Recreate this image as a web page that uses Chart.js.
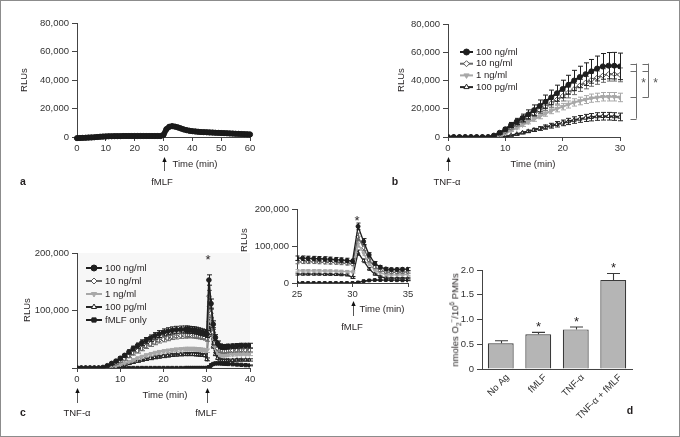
<!DOCTYPE html>
<html>
<head>
<meta charset="utf-8">
<script src="https://cdn.jsdelivr.net/npm/chart.js@4.4.1/dist/chart.umd.min.js"></script>
<style>
html, body { margin: 0; padding: 0; background: #fff; }
#fig { position: relative; width: 680px; height: 437px; overflow: hidden; }
#fig canvas { position: absolute; left: 0; top: 0; }
#frame { position: absolute; left: 0; top: 0; width: 680px; height: 437px; box-sizing: border-box; border: 1px solid #8c8c8c; pointer-events: none; }
.note { position: absolute; white-space: nowrap; font-family: 'Liberation Sans', Arial, sans-serif; font-size: 9.5px; color: #231f20; line-height: 1; }
.lbl { font-weight: bold; font-size: 10.5px; }
.star { font-size: 13px; }
.note sub, .note sup { font-size: 6.5px; line-height: 0; }
</style>
</head>
<body>
<div id="fig">
<canvas id="cA" width="680" height="437"></canvas>
<canvas id="cB" width="680" height="437"></canvas>
<canvas id="cC" width="680" height="437"></canvas>
<canvas id="cI" width="680" height="437"></canvas>
<canvas id="cD" width="680" height="437"></canvas>
<div id="frame"></div>
</div>
<script>
// ---- panel a : fMLF alone, 0-60 min
var aTime = [0,1,2,3,4,5,6,7,8,9,10,11,12,13,14,15,16,17,18,19,20,21,22,23,24,25,26,27,28,29,
             30,31,32,33,34,35,36,37,38,39,40,41,42,43,44,45,46,47,48,49,50,51,52,53,54,55,56,57,58,59,60];
var aVals = [-800,-700,-600,-500,-400,-300,-200,0,200,300,400,500,500,600,600,600,700,700,700,700,700,700,700,700,700,700,700,700,700,700,
             1500,5500,7200,7600,7300,6700,6000,5300,4800,4400,4100,3900,3700,3500,3400,3300,3200,3100,3000,2900,2800,2700,2600,2500,2400,2300,2200,2100,2000,1900,1800];

// ---- panel b : TNF-alpha doses, 0-30 min
var bTime = [0,1,2,3,4,5,6,7,8,9,10,11,12,13,14,15,16,17,18,19,20,21,22,23,24,25,26,27,28,29,30];
var b100 = [0,0,0,0,0,0,0,0,1000,3000,5500,8500,11000,13500,16000,19000,22000,25000,28000,31000,34000,37000,40000,42500,44500,46500,48500,50000,50500,50500,50000];
var b100e = [0,0,0,0,0,0,0,0,300,800,1200,1800,2200,2700,3200,3700,4200,4700,5200,5700,6200,6700,7200,7600,8000,8400,8800,9100,9300,9400,9400];
var b10 = [0,0,0,0,0,0,0,0,500,2000,4000,6500,9000,11500,14000,16500,19000,21500,24000,26500,29000,31500,34000,36500,38500,40500,42000,43500,44500,44500,44000];
var b10e = [0,0,0,0,0,0,0,0,100,300,500,800,1100,1400,1700,2000,2300,2600,2900,3200,3500,3800,4000,4200,4400,4600,4700,4800,4900,4900,4900];
var b1 = [0,0,0,0,0,0,0,0,0,800,2500,4500,6500,8500,10500,12500,14500,16500,18500,20000,21500,23000,24500,25500,26500,27500,28000,28500,28500,28500,28000];
var b1e = [0,0,0,0,0,0,0,0,0,200,400,600,800,1000,1200,1400,1600,1800,2000,2200,2300,2500,2600,2700,2800,2900,3000,3000,3000,3000,3000];
var b100pg = [0,0,0,0,0,0,0,0,0,0,300,1000,2000,3000,4000,5000,6000,7000,8000,9000,10000,11000,12000,12800,13500,14000,14500,14700,14700,14500,14200];
var b100pge = [0,0,0,0,0,0,0,0,0,0,100,300,500,700,900,1100,1300,1500,1700,1900,2000,2200,2300,2400,2500,2600,2700,2700,2700,2700,2700];
var bBrackets = [[52000, 47000, 28000, 13000], [52000, 47000, 28000]];

// ---- panel c and inset : TNF-alpha then fMLF at 30 min
var cTime = [0,1,2,3,4,5,6,7,8,9,10,11,12,13,14,15,16,17,18,19,20,21,22,23,24,
             25,25.5,26,26.5,27,27.5,28,28.5,29,29.5,30,30.5,31,31.5,32,32.5,33,33.5,34,34.5,35,
             36,37,38,39,40];
var c100 = [0,0,0,0,0,0,1000,4000,8000,12000,17000,22000,28000,34000,39000,44000,48000,52000,56000,59000,62000,64000,65500,66500,67000,
            67000,67000,66500,66000,65500,65000,64000,63000,62000,61000,59000,153000,112000,76000,53000,43000,38000,36500,36500,37000,37500,
            38000,38500,39000,39000,39000];
var c100e = [0,0,0,0,0,0,300,800,1500,2000,2500,3000,3500,4000,4500,5000,5000,5500,5500,6000,6000,6000,6000,6000,6000,
             6000,6000,6000,6000,6000,6000,6000,6000,6000,6000,6000,9000,8000,6000,5000,4000,4000,4000,4000,4000,4000,
             4000,4000,4000,4000,4000];
var c10 = [0,0,0,0,0,0,0,2000,5000,8000,12000,16000,21000,26000,30000,34000,38000,42000,45000,48000,50000,52000,54000,55000,56000,
           56500,57000,57000,57000,56500,56000,55500,55000,54000,53000,51000,125000,95000,62000,43000,34000,30000,29000,29000,29500,30000,
           30500,31000,31000,31000,31000];
var c10e = [0,0,0,0,0,0,0,500,1000,1500,2000,2500,3000,3500,4000,4000,4000,4500,4500,4500,4500,4500,4500,4500,4500,
            4500,4500,4500,4500,4500,4500,4500,4500,4500,4500,4500,10000,7000,5000,4000,3000,3000,3000,3000,3000,3000,
            3000,3000,3000,3000,3000];
var c1 = [0,0,0,0,0,0,0,1000,2500,4000,6000,8500,11000,14000,17000,19500,22000,24000,26000,27500,29000,30000,31000,32000,32500,
          33000,33000,33000,33000,33000,32500,32500,32000,31500,31000,30000,105000,80000,52000,35000,27000,23000,22000,22000,22500,23000,
          23500,24000,24000,24000,24000];
var c1e = [0,0,0,0,0,0,0,300,600,900,1200,1500,1800,2100,2400,2600,2800,3000,3000,3000,3000,3000,3000,3000,3000,
           3000,3000,3000,3000,3000,3000,3000,3000,3000,3000,3000,8000,6000,4000,3000,2500,2500,2500,2500,2500,2500,
           2500,2500,2500,2500,2500];
var c100pg = [0,0,0,0,0,0,0,0,1000,2500,4000,6000,8000,10000,12000,14000,15500,17000,18500,19500,20500,21500,22500,23000,23500,
              24000,24000,24000,24000,24000,23500,23500,23000,22500,22000,15000,82000,60000,38000,24000,17000,14000,13000,13000,13000,13500,
              13500,14000,14000,14000,14000];
var c100pge = [0,0,0,0,0,0,0,0,300,600,900,1200,1500,1800,2000,2200,2400,2500,2500,2500,2500,2500,2500,2500,2500,
               2500,2500,2500,2500,2500,2500,2500,2500,2500,2500,2500,7000,5000,3500,2500,2000,2000,2000,2000,2000,2000,
               2000,2000,2000,2000,2000];
var cF = [0,0,0,0,0,0,0,0,0,0,0,0,0,0,0,0,0,0,0,0,0,0,0,0,0,
          0,0,0,0,0,0,0,0,0,0,0,1500,5000,7000,8000,8000,8000,7800,7500,7300,7000,
          6500,6000,5500,5000,4500];
var cFe = [0,0,0,0,0,0,0,0,0,0,0,0,0,0,0,0,0,0,0,0,0,0,0,0,0,
           0,0,0,0,0,0,0,0,0,0,0,500,800,800,800,800,800,800,800,800,800,
           800,800,800,800,800];

// ---- panel d : superoxide
var dCats = ['No Ag', 'fMLF', 'TNF-\u03b1', 'TNF-\u03b1 + fMLF'];
var dVals = [0.52, 0.70, 0.80, 1.80];
var dErrs = [0.05, 0.04, 0.05, 0.13];
var dStars = [false, true, true, true];

var FONT = "'Liberation Sans', Arial, sans-serif";
Chart.defaults.font.family = FONT;
Chart.defaults.font.size = 9.5;
Chart.defaults.color = '#333';

var ST = {
  a:    {line: '#1a1a1a', fill: '#1a1a1a', edge: '#1a1a1a', shape: 'circle'},
  n100: {line: '#1f1f1f', fill: '#1f1f1f', edge: '#1f1f1f', shape: 'circle'},
  n10:  {line: '#6a6a6a', fill: '#ffffff', edge: '#555555', shape: 'rectRot'},
  n1:   {line: '#a8a8a8', fill: '#a8a8a8', edge: '#a8a8a8', shape: 'triangle', rot: 180},
  p100: {line: '#262626', fill: '#ffffff', edge: '#262626', shape: 'triangle'},
  fm:   {line: '#1f1f1f', fill: '#1f1f1f', edge: '#1f1f1f', shape: 'rect'}
};

function series(label, times, vals, errs, st, lw, r) {
  return {
    label: label,
    data: times.map(function (t, i) { return {x: t, y: vals[i]}; }),
    errs: errs,
    borderColor: st.line, backgroundColor: st.fill,
    pointBackgroundColor: st.fill, pointBorderColor: st.edge,
    pointStyle: st.shape, pointRotation: st.rot || 0,
    pointRadius: r, pointBorderWidth: 1, borderWidth: lw, tension: 0
  };
}

var fmtNum = function (v) { return v.toLocaleString('en-US'); };

function xAxis(min, max, step, h) {
  return {
    type: 'linear', min: min, max: max,
    border: {display: true, color: '#444', width: 1},
    grid: {drawOnChartArea: false, drawTicks: true, tickLength: 4, color: '#444'},
    ticks: {stepSize: step, padding: 2, color: '#333', maxRotation: 0, autoSkip: false},
    afterFit: function (s) { s.height = h; }
  };
}
function yAxis(min, max, step, w, fmt) {
  return {
    type: 'linear', min: min, max: max,
    border: {display: true, color: '#444', width: 1},
    grid: {drawOnChartArea: false, drawTicks: true, tickLength: 5, color: '#444'},
    ticks: {stepSize: step, padding: 3, color: '#333', callback: fmt},
    afterFit: function (s) { s.width = w; }
  };
}

// error bars drawn with each dataset, through the y scale
var errorBars = {
  id: 'errorBars',
  afterDatasetDraw: function (chart, args, o) {
    var ds = chart.data.datasets[args.index];
    if (!ds.errs) return;
    var ctx = chart.ctx, a = chart.chartArea, ys = chart.scales.y;
    var cap = o.cap || 3;
    var starAt = [];
    ctx.save();
    ctx.beginPath();
    ctx.rect(a.left - cap - 1, a.top - 4, a.width + 2 * cap + 2, a.height + 8);
    ctx.clip();
    ctx.strokeStyle = ds.errColor || ds.borderColor;
    ctx.lineWidth = o.width || 1;
    args.meta.data.forEach(function (el, i) {
      var e = ds.errs[i];
      if (el.x < a.left - 0.5 || el.x > a.right + 0.5) return;
      var raw = ds.data[i];
      var v = (typeof raw === 'object') ? raw.y : raw;
      var x = Math.round(el.x) + 0.5;
      var yTop = ys.getPixelForValue(v + e);
      if (e) {
        var yBot = ds.upperOnly ? ys.getPixelForValue(v) : ys.getPixelForValue(v - e);
        ctx.beginPath();
        ctx.moveTo(x, yTop); ctx.lineTo(x, yBot);
        ctx.moveTo(x - cap, yTop); ctx.lineTo(x + cap, yTop);
        if (!ds.upperOnly) { ctx.moveTo(x - cap, yBot); ctx.lineTo(x + cap, yBot); }
        ctx.stroke();
      }
      if (ds.stars && ds.stars[i]) starAt.push([x, yTop]);
    });
    ctx.restore();
    // significance marks sit above the error caps, outside the clip
    ctx.save();
    ctx.fillStyle = '#231f20';
    ctx.font = '13px ' + FONT;
    ctx.textAlign = 'center';
    ctx.textBaseline = 'alphabetic';
    starAt.forEach(function (p) { ctx.fillText('*', p[0], p[1] - 1); });
    ctx.restore();
  }
};

// small legend inside the plot area
var miniLegend = {
  id: 'miniLegend',
  afterDraw: function (chart, args, o) {
    if (o.x == null) return;
    var ctx = chart.ctx;
    ctx.save();
    ctx.font = '9.5px ' + FONT;
    ctx.textBaseline = 'middle';
    chart.data.datasets.forEach(function (ds, i) {
      var y = o.y + i * o.dy;
      ctx.strokeStyle = ds.borderColor; ctx.lineWidth = 2;
      ctx.beginPath(); ctx.moveTo(o.x, y); ctx.lineTo(o.x + o.len, y); ctx.stroke();
      ctx.fillStyle = ds.pointBackgroundColor; ctx.strokeStyle = ds.pointBorderColor; ctx.lineWidth = 1;
      Chart.helpers.drawPoint(ctx, {pointStyle: ds.pointStyle, rotation: ds.pointRotation, radius: 3, borderWidth: 1}, o.x + o.len / 2, y);
      ctx.fillStyle = '#231f20';
      ctx.fillText(ds.label, o.x + o.len + 3, y);
    });
    ctx.restore();
  }
};

// arrows under the time axis, brackets, plot shading
var extras = {
  id: 'extras',
  beforeDraw: function (chart, args, o) {
    if (!o.shade) return;
    var a = chart.chartArea, ctx = chart.ctx;
    ctx.save(); ctx.fillStyle = o.shade;
    ctx.fillRect(a.left + 1, a.top, a.width - 1, a.height);
    ctx.restore();
  },
  afterDraw: function (chart, args, o) {
    var ctx = chart.ctx, a = chart.chartArea, xs = chart.scales.x, ys = chart.scales.y;
    ctx.save();
    (o.arrows || []).forEach(function (v) {
      var x = Math.round(xs.getPixelForValue(v)) + 0.5;
      var y0 = a.bottom + o.arrowTop, y1 = a.bottom + o.arrowBottom;
      ctx.strokeStyle = '#555'; ctx.lineWidth = 1;
      ctx.beginPath(); ctx.moveTo(x, y0 + 4); ctx.lineTo(x, y1); ctx.stroke();
      ctx.fillStyle = '#111';
      ctx.beginPath(); ctx.moveTo(x, y0); ctx.lineTo(x - 2.2, y0 + 5); ctx.lineTo(x + 2.2, y0 + 5); ctx.closePath(); ctx.fill();
    });
    (o.brackets || []).forEach(function (vals, k) {
      var x = Math.round(a.right + o.bracketX[k]) + 0.5;
      var yA = ys.getPixelForValue(vals[0]), yB = ys.getPixelForValue(vals[vals.length - 1]);
      ctx.strokeStyle = '#6d6d6d'; ctx.lineWidth = 1;
      ctx.beginPath(); ctx.moveTo(x, yA); ctx.lineTo(x, yB);
      vals.forEach(function (v) {
        var y = Math.round(ys.getPixelForValue(v)) + 0.5;
        ctx.moveTo(x - 6, y); ctx.lineTo(x, y);
      });
      ctx.stroke();
      ctx.fillStyle = '#555';
      ctx.font = '12px ' + FONT;
      ctx.textAlign = 'center';
      ctx.fillText('*', x + 7, ys.getPixelForValue(o.starAt) + 6);
    });
    ctx.restore();
  }
};

function base(pad, pl, scales) {
  pl.legend = {display: false};
  pl.tooltip = {enabled: false};
  return {
    responsive: false, animation: false, devicePixelRatio: 1, events: [],
    layout: {padding: pad},
    plugins: pl,
    scales: scales
  };
}
var PLUGS = [errorBars, miniLegend, extras];

// a
new Chart(document.getElementById('cA'), {
  type: 'line',
  data: {datasets: [Object.assign(series('fMLF', aTime, aVals, null, ST.a, 5.5, 2.6), {clip: 5})]},
  options: base({left: 0, top: 23, right: 430, bottom: 0},
    {extras: {arrows: [30], arrowTop: 20, arrowBottom: 34}},
    {x: xAxis(0, 60, 10, 300), y: yAxis(0, 80000, 20000, 77, fmtNum)}),
  plugins: PLUGS
});

// b
new Chart(document.getElementById('cB'), {
  type: 'line',
  data: {datasets: [
    series('100 ng/ml', bTime, b100, b100e, ST.n100, 2.2, 2.5),
    series('10 ng/ml', bTime, b10, b10e, ST.n10, 2, 2.5),
    series('1 ng/ml', bTime, b1, b1e, ST.n1, 2, 2.5),
    series('100 pg/ml', bTime, b100pg, b100pge, ST.p100, 2, 2.5)
  ]},
  options: base({left: 388, top: 24, right: 60, bottom: 0},
    {errorBars: {cap: 2.5},
     miniLegend: {x: 460, y: 52, dy: 11.7, len: 13},
     extras: {arrows: [0], arrowTop: 20, arrowBottom: 34, brackets: bBrackets, bracketX: [16, 28], starAt: 40000}},
    {x: xAxis(0, 30, 10, 300), y: yAxis(0, 80000, 20000, 60, fmtNum)}),
  plugins: PLUGS
});

function cSets(lw, r) {
  return [
    series('100 ng/ml', cTime, c100, c100e, ST.n100, lw, r),
    series('10 ng/ml', cTime, c10, c10e, ST.n10, lw, r),
    series('1 ng/ml', cTime, c1, c1e, ST.n1, lw, r),
    series('100 pg/ml', cTime, c100pg, c100pge, ST.p100, lw, r),
    series('fMLF only', cTime, cF, cFe, ST.fm, lw, r)
  ];
}

// c
new Chart(document.getElementById('cC'), {
  type: 'line',
  data: {datasets: cSets(1.6, 2.3)},
  options: base({left: 0, top: 253, right: 430, bottom: 0},
    {errorBars: {cap: 2.5},
     miniLegend: {x: 86, y: 268, dy: 13, len: 16},
     extras: {shade: '#f7f7f7', arrows: [0, 30], arrowTop: 20, arrowBottom: 35}},
    {x: xAxis(0, 40, 10, 69),
     y: yAxis(0, 200000, 100000, 77, function (v) { return v === 0 ? '' : fmtNum(v); })}),
  plugins: PLUGS
});

// inset
new Chart(document.getElementById('cI'), {
  type: 'line',
  data: {datasets: cSets(1.3, 2)},
  options: base({left: 237, top: 209, right: 272, bottom: 0},
    {errorBars: {cap: 2},
     extras: {arrows: [30], arrowTop: 18, arrowBottom: 33}},
    {x: xAxis(25, 35, 5, 154), y: yAxis(0, 200000, 100000, 60, fmtNum)}),
  plugins: PLUGS
});

// d
new Chart(document.getElementById('cD'), {
  type: 'bar',
  data: {labels: dCats, datasets: [{
    label: 'O2', data: dVals, errs: dErrs, stars: dStars, upperOnly: true, errColor: '#3a3a3a',
    backgroundColor: '#b5b5b5', borderColor: '#3a3a3a', borderWidth: 1.2,
    barPercentage: 0.69, categoryPercentage: 1
  }]},
  options: base({left: 452, top: 270, right: 48, bottom: 0},
    {errorBars: {cap: 6.5, width: 1.1}},
    {x: {type: 'category',
         border: {display: true, color: '#444', width: 1},
         grid: {display: false},
         ticks: {minRotation: 45, maxRotation: 45, padding: -5, labelOffset: 7, color: '#333', autoSkip: false},
         afterFit: function (s) { s.height = 68; }},
     y: yAxis(0, 2, 0.5, 30, function (v) { return v === 0 ? '0' : v.toFixed(1); })}),
  plugins: PLUGS
});

// text notes
function note(html, x, y, cls, rot) {
  var d = document.createElement('div');
  d.className = 'note' + (cls ? ' ' + cls : '');
  d.innerHTML = html;
  d.style.left = x + 'px';
  d.style.top = y + 'px';
  d.style.transform = 'translate(-50%,-50%)' + (rot ? ' rotate(' + rot + 'deg)' : '');
  document.getElementById('fig').insertBefore(d, document.getElementById('frame'));
}
note('RLUs', 24, 80, '', -90);
note('Time (min)', 195, 164);
note('fMLF', 162, 182);
note('a', 23, 181, 'lbl');

note('RLUs', 401, 80, '', -90);
note('Time (min)', 533, 164);
note('TNF-\u03b1', 447, 182);
note('b', 395, 181, 'lbl');

note('RLUs', 27, 310, '', -90);
note('Time (min)', 165, 395);
note('TNF-\u03b1', 77, 413);
note('fMLF', 206, 413);
note('c', 23, 412, 'lbl');
note('*', 208, 259, 'star');

note('RLUs', 244, 240, '', -90);
note('Time (min)', 382, 309);
note('fMLF', 352, 327);
note('*', 357, 220, 'star');

note('nmoles O<sub>2</sub><sup>\u2212</sup>/10<sup>6</sup> PMNs', 455, 320, '', -90);
note('d', 630, 410, 'lbl');
</script>
</body>
</html>
